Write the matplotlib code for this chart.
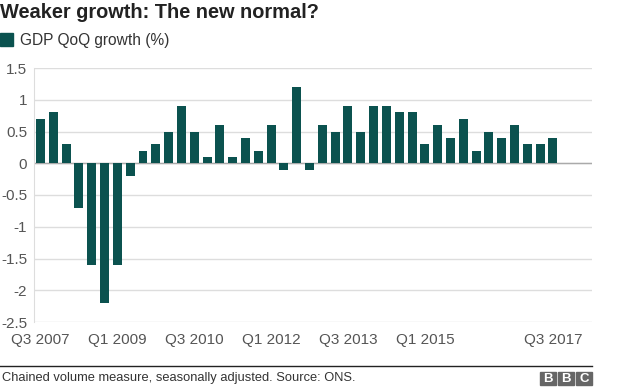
import numpy as np
import matplotlib.pyplot as plt
from matplotlib.patches import Rectangle

plt.rcParams['font.family'] = ['Liberation Sans', 'DejaVu Sans']

# Quarterly GDP growth, Q3 2007 to Q3 2017
quarters = ['Q3 2007', 'Q4 2007', 'Q1 2008', 'Q2 2008', 'Q3 2008', 'Q4 2008',
            'Q1 2009', 'Q2 2009', 'Q3 2009', 'Q4 2009', 'Q1 2010', 'Q2 2010',
            'Q3 2010', 'Q4 2010', 'Q1 2011', 'Q2 2011', 'Q3 2011', 'Q4 2011',
            'Q1 2012', 'Q2 2012', 'Q3 2012', 'Q4 2012', 'Q1 2013', 'Q2 2013',
            'Q3 2013', 'Q4 2013', 'Q1 2014', 'Q2 2014', 'Q3 2014', 'Q4 2014',
            'Q1 2015', 'Q2 2015', 'Q3 2015', 'Q4 2015', 'Q1 2016', 'Q2 2016',
            'Q3 2016', 'Q4 2016', 'Q1 2017', 'Q2 2017', 'Q3 2017']
growth = [0.7, 0.8, 0.3, -0.7, -1.6, -2.2, -1.6, -0.2, 0.2, 0.3, 0.5, 0.9,
          0.5, 0.1, 0.6, 0.1, 0.4, 0.2, 0.6, -0.1, 1.2, -0.1, 0.6, 0.5,
          0.9, 0.5, 0.9, 0.9, 0.8, 0.8, 0.3, 0.6, 0.4, 0.7, 0.2, 0.5,
          0.4, 0.6, 0.3, 0.3, 0.4]
shown_labels = ['Q3 2007', 'Q1 2009', 'Q3 2010', 'Q1 2012', 'Q3 2013', 'Q1 2015', 'Q3 2017']
y_ticks = [1.5, 1, 0.5, 0, -0.5, -1, -1.5, -2, -2.5]

bar_color = '#0b524f'
W, H = 624, 390

fig = plt.figure(figsize=(6.24, 3.9), dpi=100)
# axes placed in pixel coords: x 34..592, y 68..322 (from top)
ax = fig.add_axes([34 / W, 1 - 322 / H, (592 - 34) / W, (322 - 68) / H])

x = np.arange(len(quarters))
ax.bar(x, growth, width=0.7, color=bar_color, zorder=3)
ax.set_xlim(-0.51, 43.05)
ax.set_ylim(-2.5, 1.5)

ax.set_yticks(y_ticks)
ax.set_yticklabels([('%g' % v) for v in y_ticks])
ax.grid(axis='y', color='#dddddd', linewidth=1, zorder=0)
ax.axhline(0, color='#aaaaaa', linewidth=1, zorder=2)

tick_pos = [quarters.index(q) for q in shown_labels]
ax.set_xticks(tick_pos)
ax.set_xticklabels(shown_labels)

for s in ['top', 'right', 'bottom']:
    ax.spines[s].set_visible(False)
ax.spines['left'].set_color('#dddddd')
ax.tick_params(axis='both', length=0, labelsize=11, labelcolor='#555555')
ax.tick_params(axis='y', pad=5)
ax.tick_params(axis='x', pad=8)

# title and legend
fig.text(0, 1 - 13 / H, 'Weaker growth: The new normal?', fontsize=14.4,
         fontweight='bold', color='#222222', va='center', ha='left')
fig.patches.append(Rectangle((0, 1 - 46 / H), 13 / W, 13 / H,
                             transform=fig.transFigure, color=bar_color))
fig.text(20 / W, 1 - 40 / H, 'GDP QoQ growth (%)', fontsize=11.2,
         color='#333333', va='center', ha='left')

# footer
fig.add_artist(plt.Line2D([0, 592 / W], [1 - 366 / H, 1 - 366 / H],
                          transform=fig.transFigure, color='#222222', linewidth=1))
fig.text(2 / W, 1 - 377.5 / H, 'Chained volume measure, seasonally adjusted. Source: ONS.',
         fontsize=9.3, color='#333333', va='center', ha='left')
for i, letter in enumerate('BBC'):
    x0 = 540 + i * 18
    fig.patches.append(Rectangle((x0 / W, 1 - 385 / H), 16 / W, 13 / H,
                                 transform=fig.transFigure, color='#666666'))
    fig.text((x0 + 8) / W, 1 - 378.5 / H, letter, fontsize=9.5, fontweight='bold',
             color='white', ha='center', va='center')

fig.savefig('out.png', dpi=100)
